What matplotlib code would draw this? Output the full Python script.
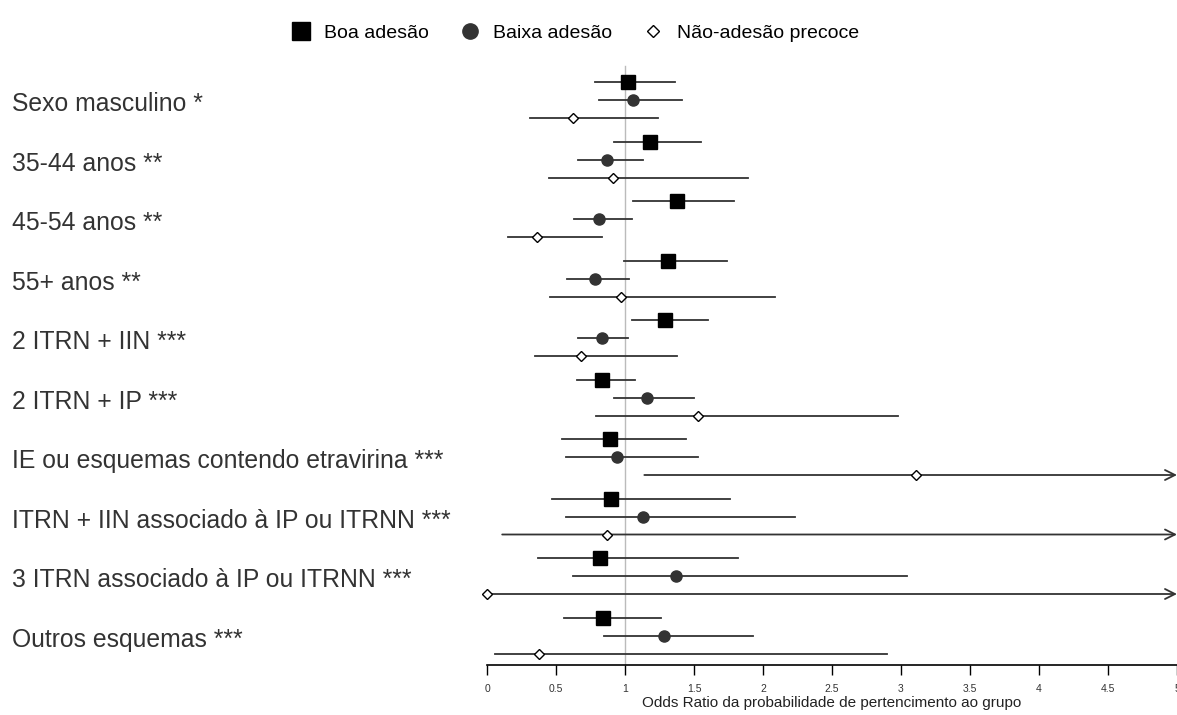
import numpy as np
import matplotlib.pyplot as plt
from matplotlib.transforms import blended_transform_factory
from matplotlib.lines import Line2D

plt.rcParams['font.family'] = ['Liberation Sans', 'DejaVu Sans']

categorias = ["Sexo masculino *", "35-44 anos **", "45-54 anos **", "55+ anos **",
              "2 ITRN + IIN ***", "2 ITRN + IP ***", "IE ou esquemas contendo etravirina ***",
              "ITRN + IIN associado à IP ou ITRNN ***", "3 ITRN associado à IP ou ITRNN ***",
              "Outros esquemas ***"]

# Boa adesão
boa_or = [1.02, 1.18, 1.38, 1.31, 1.29, 0.83, 0.89, 0.90, 0.82, 0.84]
boa_lo = [0.78, 0.92, 1.06, 0.99, 1.05, 0.65, 0.54, 0.47, 0.37, 0.56]
boa_hi = [1.36, 1.55, 1.79, 1.74, 1.60, 1.07, 1.44, 1.76, 1.82, 1.26]

# Baixa adesão
baixa_or = [1.06, 0.87, 0.81, 0.78, 0.83, 1.16, 0.94, 1.13, 1.37, 1.28]
baixa_lo = [0.81, 0.66, 0.63, 0.58, 0.66, 0.92, 0.57, 0.57, 0.62, 0.85]
baixa_hi = [1.41, 1.13, 1.05, 1.03, 1.02, 1.50, 1.53, 2.23, 3.04, 1.93]

# Não-adesão precoce (limite superior > 5 em três casos)
nao_or = [0.62, 0.91, 0.36, 0.97, 0.68, 1.53, 3.11, 0.87, 0.00, 0.38]
nao_lo = [0.31, 0.45, 0.15, 0.46, 0.35, 0.79, 1.14, 0.11, 0.00, 0.06]
nao_hi = [1.24, 1.89, 0.83, 2.09, 1.38, 2.98, 8.50, 9.20, 12.0, 2.90]

xticks = [0, 0.5, 1, 1.5, 2, 2.5, 3, 3.5, 4, 4.5, 5]
xtick_labels = ["0", "0.5", "1", "1.5", "2", "2.5", "3", "3.5", "4", "4.5", "5"]

fig = plt.figure(figsize=(11.77, 7.15), dpi=100)
ax = fig.add_axes([487 / 1177, 1 - 665 / 715, 690 / 1177, 605 / 715])
ax.set_xlim(0, 5)
ax.set_ylim(665, 60)

XMAX = 5.0
series = [
    (boa_or, boa_lo, boa_hi, 0, dict(marker='s', ms=10, mfc='black', mec='black')),
    (baixa_or, baixa_lo, baixa_hi, 18, dict(marker='o', ms=8, mfc='#333333', mec='#333333')),
    (nao_or, nao_lo, nao_hi, 36, dict(marker='D', ms=5, mfc='white', mec='black', mew=1.0)),
]

ax.axvline(1, color='#bbbbbb', lw=1, zorder=0, ymax=0.99)

for i, cat in enumerate(categorias):
    base = 82 + 59.5 * i
    for ors, los, his, off, mk in series:
        y = base + off
        lo, hi, val = los[i], his[i], ors[i]
        if hi > XMAX:
            ax.annotate("", xy=(XMAX, y), xytext=(lo, y), xycoords='data',
                        arrowprops=dict(arrowstyle='->', color='#333333', lw=1.3,
                                        mutation_scale=18, shrinkA=0, shrinkB=0),
                        annotation_clip=False)
        else:
            ax.plot([lo, hi], [y, y], color='#333333', lw=1.3, zorder=2)
        ax.plot([val], [y], linestyle='none', zorder=3, clip_on=False, **mk)

trans = blended_transform_factory(fig.transFigure, ax.transData)
for i, cat in enumerate(categorias):
    ax.text(12 / 1177, 82 + 59.5 * i + 22, cat, transform=trans, fontsize=17.8,
            color='#333333', ha='left', va='center')

for s in ['top', 'right', 'left']:
    ax.spines[s].set_visible(False)
ax.spines['bottom'].set_linewidth(1.2)
ax.set_yticks([])
ax.set_xticks(xticks)
ax.set_xticklabels(xtick_labels, fontsize=7.5, color='#333333')
ax.tick_params(axis='x', length=7, width=1, pad=7)
ax.set_xlabel("Odds Ratio da probabilidade de pertencimento ao grupo", fontsize=11,
              labelpad=1, color='#222222')

handles = [
    Line2D([], [], linestyle='none', marker='s', ms=13, mfc='black', mec='black'),
    Line2D([], [], linestyle='none', marker='o', ms=11, mfc='#333333', mec='#333333'),
    Line2D([], [], linestyle='none', marker='D', ms=6, mfc='white', mec='black'),
]
fig.legend(handles, ["Boa adesão", "Baixa adesão", "Não-adesão precoce"],
           loc='center', bbox_to_anchor=(575 / 1177, 1 - 33 / 715), ncol=3,
           frameon=False, fontsize=14, handlelength=1.0, handletextpad=0.7,
           columnspacing=1.6)

fig.savefig("out.png", dpi=100)
